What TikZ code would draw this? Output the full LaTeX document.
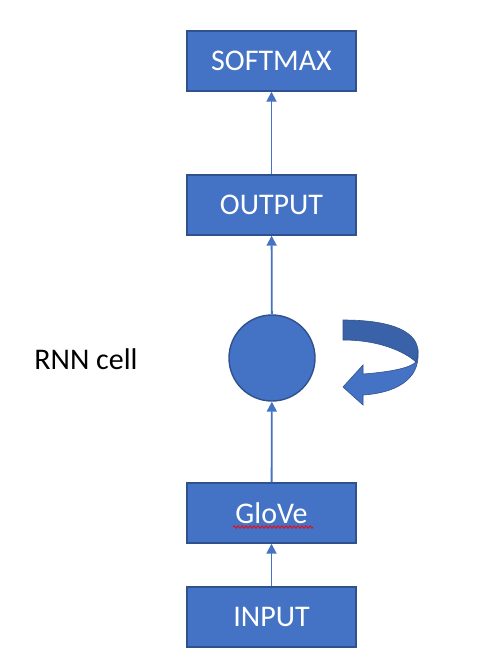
\documentclass[tikz,border=0pt]{standalone}
\usepackage{fontspec}
\setmainfont{Carlito}
\usetikzlibrary{arrows.meta,decorations.pathmorphing}
\definecolor{obl}{HTML}{4472C4}
\definecolor{obd}{HTML}{2F528F}
\definecolor{obm}{HTML}{3A62A8}
\begin{document}
\begin{tikzpicture}[x=1pt,y=-1pt,
  box/.style={draw=obd,line width=1.4pt,fill=obl,minimum width=169pt,minimum height=60pt,
    inner sep=0pt,text=white,font=\fontsize{30}{34}\selectfont},
  conn/.style={draw=obl,line width=1.8pt,-{Triangle[width=10pt,length=10pt]}}]
\fill[white] (0,0) rectangle (498,672);
\useasboundingbox (0,0) rectangle (498,672);
\node[box] (soft) at (271.5,61) {SOFTMAX};
\node[box] (out) at (271.5,205) {OUTPUT};
\node[box] (glove) at (271.5,513) {GloVe};
\node[box] (inp) at (271.5,617) {INPUT};
\node[circle,draw=obd,line width=1.4pt,fill=obl,minimum size=86pt,inner sep=0pt] (cell) at (272,358) {};
\node[font=\fontsize{30}{34}\selectfont] (lbl) at (86,359) {RNN cell};
\draw[conn] (inp) -- (glove);
\draw[conn] (glove) -- (cell);
\draw[conn] (cell) -- (out);
\draw[conn] (out) -- (soft);
\draw[red,line width=0.8pt,decorate,decoration={zigzag,amplitude=1.3pt,segment length=4pt}]
  (233,527) -- (313,527);
% curved arrow
\fill[obl,draw=obd,line width=0.6pt] (418,352) .. controls (420,380) and (395,393) .. (363,395) -- (363,405) -- (343,387) -- (363,365) -- (363,374)
  .. controls (390,372) and (410,368) .. (416,362) -- cycle;
\fill[obm,draw=obd,line width=0.6pt] (343,320) .. controls (395,320) and (418,333) .. (418,352) -- (416,362)
  .. controls (405,352) and (380,340) .. (343,340) -- cycle;
\end{tikzpicture}
\end{document}
